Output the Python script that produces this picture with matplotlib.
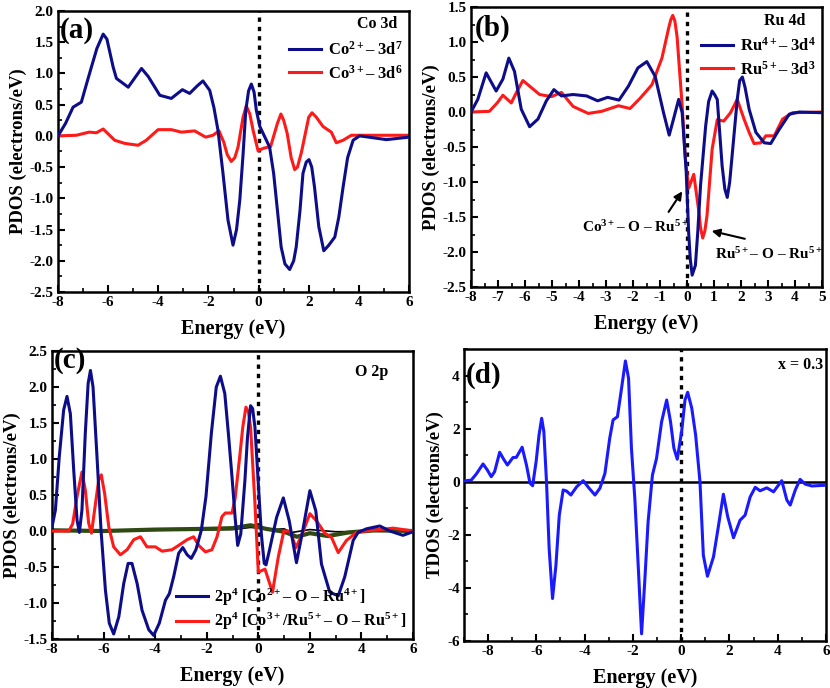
import matplotlib
matplotlib.use("Agg")
import matplotlib.pyplot as plt
from matplotlib.ticker import MultipleLocator, FormatStrFormatter

plt.rcParams['font.family'] = ['Liberation Serif', 'DejaVu Serif']
plt.rcParams['font.weight'] = 'bold'
plt.rcParams['mathtext.fontset'] = 'custom'
plt.rcParams['mathtext.rm'] = 'Liberation Serif:bold'
plt.rcParams['mathtext.bf'] = 'Liberation Serif:bold'
plt.rcParams['mathtext.it'] = 'Liberation Serif:bold'

# ---------------- Panel (a): Co 3d ----------------
a_e_co2 = [-8, -7.7, -7.4, -7.07, -6.85, -6.67, -6.45, -6.2, -6.05, -5.95, -5.8, -5.67, -5.2, -4.9,
           -4.67, -4.4, -3.94, -3.48, -3.04, -2.75, -2.45, -2.22, -1.95, -1.78, -1.62, -1.42, -1.22,
           -1.02, -0.88, -0.75, -0.62, -0.51, -0.4, -0.29, -0.18, -0.09, 0.05, 0.18, 0.44, 0.6, 0.71,
           0.9, 1.05, 1.24, 1.4, 1.5, 1.65, 1.77, 1.9, 2.01, 2.12, 2.23, 2.4, 2.6, 2.8, 3.04, 3.2,
           3.37, 3.55, 3.77, 4.03, 5.1, 6]
a_d_co2 = [0, 0.2, 0.46, 0.54, 0.85, 1.1, 1.4, 1.63, 1.55, 1.37, 1.1, 0.92, 0.78, 0.95,
           1.08, 0.95, 0.65, 0.6, 0.74, 0.68, 0.8, 0.88, 0.73, 0.45, 0.09, -0.6, -1.35,
           -1.75, -1.5, -1.03, -0.3, 0.41, 0.72, 0.83, 0.7, 0.41, 0.15, 0.04, -0.18, -0.6, -1.03,
           -1.78, -2.05, -2.14, -2.0, -1.78, -1.2, -0.6, -0.42, -0.38, -0.5, -0.82, -1.45, -1.84, -1.75, -1.62, -1.3,
           -0.82, -0.35, -0.07, 0, -0.06, -0.02]
a_e_co3 = [-8, -7.27, -6.76, -6.47, -6.2, -5.74, -5.34, -4.81, -4.48, -4.01, -3.48, -3.08, -2.55,
           -2.11, -1.82, -1.58, -1.39, -1.25, -1.09, -0.95, -0.82, -0.62, -0.49, -0.35, -0.22, -0.02,
           0.18, 0.48, 0.75, 0.89, 1.0, 1.14, 1.3, 1.44, 1.55, 1.71, 2.0, 2.13, 2.3, 2.57, 2.9, 3.1,
           3.37, 3.7, 6]
a_d_co3 = [0, 0.01, 0.06, 0.05, 0.11, -0.07, -0.12, -0.15, -0.07, 0.1, 0.1, 0.06, 0.08,
           -0.02, 0.01, 0.08, -0.1, -0.3, -0.41, -0.35, -0.18, 0.3, 0.48, 0.35, 0.09, -0.24,
           -0.2, -0.17, 0.2, 0.35, 0.25, 0.04, -0.35, -0.54, -0.5, -0.26, 0.3, 0.37, 0.3, 0.15, 0.06, -0.11,
           -0.07, 0.01, 0.01]

# ---------------- Panel (b): Ru 4d ----------------
b_e_ru4 = [-8, -7.75, -7.44, -7.07, -6.82, -6.6, -6.39, -6.14, -5.83, -5.52, -5.21, -4.93, -4.65,
           -4.22, -3.72, -3.31, -2.94, -2.52, -2.17, -1.82, -1.49, -1.18, -0.87, -0.66, -0.5, -0.31,
           -0.18, -0.03, 0.06, 0.12, 0.19, 0.31, 0.4, 0.5, 0.69, 0.8, 0.93, 1.02, 1.12, 1.3, 1.4, 1.49,
           1.58, 1.68, 1.86, 1.95, 2.05, 2.15, 2.3, 2.55, 2.86, 3.1, 3.41, 3.79, 4.16, 5]
b_d_ru4 = [0, 0.18, 0.56, 0.3, 0.47, 0.77, 0.58, 0.04, -0.21, -0.1, 0.16, 0.32, 0.23,
           0.25, 0.23, 0.16, 0.21, 0.17, 0.37, 0.63, 0.72, 0.51, -0.01, -0.33, -0.1, 0.18,
           -0.01, -0.86, -1.72, -2.1, -2.33, -2.19, -1.7, -1.05, -0.2, 0.15, 0.3, 0.25, 0.18, -0.77, -1.1, -1.22,
           -1.0, -0.58, 0.18, 0.45, 0.5, 0.35, 0.04, -0.29, -0.44, -0.45, -0.25, -0.03, 0, -0.01]
b_e_ru5 = [-8, -7.32, -7.03, -6.82, -6.51, -6.33, -6.08, -5.77, -5.46, -5.02, -4.65, -4.22, -3.66,
           -3.16, -2.54, -2.11, -1.73, -1.3, -0.93, -0.68, -0.6, -0.53, -0.45, -0.37, -0.18, -0.06,
           0.06, 0.25, 0.44, 0.5, 0.58, 0.66, 0.74, 0.93, 1.12, 1.36, 1.61, 1.86, 2.11, 2.3, 2.48,
           2.73, 2.92, 3.23, 3.54, 3.91, 5]
b_d_ru5 = [0, 0.01, 0.13, 0.24, 0.13, 0.27, 0.45, 0.35, 0.25, 0.22, 0.28, 0.08, -0.02,
           0.01, 0.09, 0.05, 0.2, 0.39, 0.77, 1.2, 1.32, 1.38, 1.3, 1.08, 0.09, -0.67,
           -1.09, -0.89, -1.43, -1.65, -1.8, -1.7, -1.48, -0.53, -0.11, -0.13, -0.01, 0.18, -0.1, -0.29, -0.45,
           -0.44, -0.34, -0.34, -0.1, -0.01, 0]

# ---------------- Panel (c): O 2p ----------------
c_e_blue = [-8, -7.87, -7.72, -7.55, -7.42, -7.29, -7.16, -7.03, -6.94, -6.84, -6.71, -6.6, -6.51,
            -6.41, -6.25, -6.1, -5.93, -5.78, -5.61, -5.41, -5.22, -5.05, -4.9, -4.7, -4.51, -4.25,
            -4.06, -3.84, -3.6, -3.45, -3.28, -3.09, -2.93, -2.76, -2.6, -2.42, -2.21, -2.03, -1.82,
            -1.63, -1.47, -1.3, -1.15, -1.02, -0.9, -0.8, -0.68, -0.52, -0.42, -0.3, -0.22, -0.13,
            0.04, 0.12, 0.23, 0.3, 0.43, 0.71, 0.97, 1.2, 1.48, 1.72, 2.0, 2.23, 2.45, 2.77, 3.1,
            3.35, 3.68, 3.87, 4.19, 4.71, 5.1, 5.61, 6]
c_d_blue = [0.06, 0.29, 1.03, 1.68, 1.87, 1.63, 0.85, 0.15, -0.02, 0.29, 1.36, 2.05, 2.23,
            2.0, 0.99, 0.01, -0.82, -1.28, -1.43, -1.19, -0.73, -0.45, -0.45, -0.73, -1.1, -1.37,
            -1.45, -1.28, -0.96, -0.87, -0.63, -0.31, -0.23, -0.33, -0.38, -0.26, 0.01, 0.48, 1.36,
            2.0, 2.15, 1.91, 1.31, 0.75, 0.19, -0.2, -0.04, 0.7, 1.3, 1.74, 1.7, 1.44,
            0.42, -0.05, -0.45, -0.47, -0.27, 0.19, 0.46, 0.14, -0.44, 0, 0.56, 0.28, -0.46, -0.85, -0.9,
            -0.64, -0.13, -0.02, 0.03, 0.07, 0, -0.06, -0.01]
c_e_red = [-8, -7.35, -7.2, -7.03, -6.84, -6.71, -6.58, -6.47, -6.35, -6.19, -6.09, -5.96, -5.8,
           -5.61, -5.35, -5.09, -4.83, -4.57, -4.32, -3.99, -3.73, -3.35, -3.09, -2.76, -2.51, -2.31,
           -2.05, -1.8, -1.6, -1.41, -1.28, -1.02, -0.9, -0.71, -0.6, -0.48, -0.38, -0.3, -0.13, 0.0,
           0.26, 0.55, 0.77, 0.99, 1.23, 1.46, 1.68, 2.0, 2.26, 2.58, 2.84, 3.1, 3.42, 3.81, 4.19,
           5.23, 6]
c_d_red = [0, 0, 0.1, 0.48, 0.82, 0.57, 0.11, -0.03, 0.29, 0.71, 0.78, 0.52, 0.06,
           -0.22, -0.33, -0.26, -0.12, -0.08, -0.22, -0.22, -0.28, -0.26, -0.2, -0.12, -0.08, -0.2,
           -0.29, -0.26, -0.08, 0.2, 0.25, 0.25, 0.45, 1.07, 1.45, 1.72, 1.65, 1.44, 0.38, -0.57,
           -0.53, -0.85, -0.37, 0, 0, -0.23, -0.06, 0.24, 0.14, -0.03, -0.09, -0.3, -0.13, -0.02, 0,
           0.04, 0]
c_e_green = [-8, -6, -4, -2, -1, -0.3, 0.3, 1.0, 1.5, 2.0, 2.7, 3.5, 4.5, 6]
c_d_green = [0.01, 0.0, 0.02, 0.03, 0.04, 0.08, 0.03, -0.01, -0.08, -0.03, -0.07, -0.02, 0.01, 0.0]
c_e_black = [-8, -4, -1, -0.3, 0.5, 1.0, 1.3, 2.0, 3.0, 6]
c_d_black = [0, 0.01, 0.02, 0.05, 0.02, 0.03, -0.02, 0.02, -0.01, 0]

# ---------------- Panel (d): TDOS ----------------
d_e = [-9, -8.7, -8.49, -8.21, -8.03, -7.87, -7.73, -7.52, -7.35, -7.2, -6.97, -6.83, -6.59, -6.41,
       -6.265, -6.155, -6.01, -5.89, -5.78, -5.69, -5.58, -5.47, -5.33, -5.19, -5.05, -4.89, -4.75,
       -4.57, -4.33, -4.06, -3.81, -3.57, -3.37, -3.16, -2.96, -2.82, -2.64, -2.47, -2.31, -2.18,
       -2.06, -1.92, -1.78, -1.64, -1.51, -1.37, -1.19, -1.02, -0.81, -0.6, -0.44, -0.3, -0.16,
       0.02, 0.16, 0.27, 0.44, 0.6, 0.78, 0.92, 1.09, 1.34, 1.54, 1.75, 1.93, 2.17, 2.44, 2.65,
       2.86, 3.07, 3.27, 3.55, 3.83, 4.03, 4.17, 4.38, 4.52, 4.73, 4.93, 5.14, 5.42, 6]
d_tdos = [0.03, 0.06, 0.29, 0.67, 0.44, 0.19, 0.38, 1.11, 0.84, 0.63, 0.91, 0.92, 1.3, 0.63,
          -0.05, -0.15, 0.76, 1.76, 2.39, 1.89, 0, -2.52, -4.4, -3.15, -1.26, -0.31, -0.35,
          -0.5, -0.19, 0.04, -0.25, -0.5, -0.25, 0.31, 1.64, 2.33, 2.45, 3.52, 4.55, 3.9,
          1.26, -0.63, -3.15, -5.73, -3.78, -1.51, 0.25, 0.88, 2.26, 3.08, 2.26, 1.26, 0.85,
          1.89, 3.08, 3.37, 2.77, 1.76, 0, -2.77, -3.56, -2.83, -1.7, -0.47, -1.32, -2.11, -1.45, -1.26,
          -0.57, -0.21, -0.34, -0.23, -0.38, -0.13, 0.04, -0.69, -0.88, -0.31, 0.09, -0.09, -0.16, -0.13]

NAVY = '#0d0d8a'
RED = '#ff1a1a'
BLUE = '#1a1aff'
GREEN = '#2e4a12'
LW = 2.2

fig = plt.figure(figsize=(8.3, 6.88), dpi=100)


def style(ax, xlim, ylim, xmaj, xmin, ymaj, ymin, ylabel, yfmt):
    ax.set_xlim(*xlim)
    ax.set_ylim(*ylim)
    ax.xaxis.set_major_locator(MultipleLocator(xmaj))
    ax.xaxis.set_minor_locator(MultipleLocator(xmin))
    ax.yaxis.set_major_locator(MultipleLocator(ymaj))
    ax.yaxis.set_minor_locator(MultipleLocator(ymin))
    ax.yaxis.set_major_formatter(FormatStrFormatter(yfmt))
    ax.xaxis.set_major_formatter(FormatStrFormatter('%d'))
    ax.tick_params(which='major', direction='in', length=5, width=1.5, labelsize=11, pad=3)
    ax.tick_params(which='minor', direction='in', length=3, width=1.2)
    for s in ax.spines.values():
        s.set_linewidth(1.8)
    for lab in ax.get_xticklabels() + ax.get_yticklabels():
        lab.set_fontweight('bold')
    ax.set_xlabel('Energy (eV)', fontsize=14.5, fontweight='bold', labelpad=7)
    ax.set_ylabel(ylabel, fontsize=13.5, fontweight='bold', labelpad=2)
    ax.axvline(0, color='black', lw=2.4, linestyle=(0, (1.3, 1.5)), zorder=1)
    for line in ax.get_lines():
        line.set_solid_joinstyle('round')


# (a)
axa = fig.add_axes([0.0699, 0.5756, 0.4229, 0.4084])
axa.plot(a_e_co2, a_d_co2, color=NAVY, lw=LW, label=r'Co$^{2+}$– 3d$^{7}$', zorder=3)
axa.plot(a_e_co3, a_d_co3, color=RED, lw=LW, label=r'Co$^{3+}$– 3d$^{6}$', zorder=2)
style(axa, (-8, 6), (-2.5, 2.0), 2, 1, 0.5, 0.25, 'PDOS (electrons/eV)', '%.1f')
axa.text(0.005, 0.93, '(a)', transform=axa.transAxes, fontsize=21, fontweight='bold', va='center', ha='left')
axa.text(0.91, 0.953, 'Co 3d', transform=axa.transAxes, fontsize=11.5, fontweight='bold', va='center', ha='center')
axa.legend(loc='upper right', bbox_to_anchor=(1.01, 0.93), frameon=False, fontsize=12,
           handlelength=1.9, handletextpad=0.4, labelspacing=0.35, borderaxespad=0.2)

# (b)
axb = fig.add_axes([0.5675, 0.5828, 0.4229, 0.407])
axb.plot(b_e_ru4, b_d_ru4, color=NAVY, lw=LW, label=r'Ru$^{4+}$– 3d$^{4}$', zorder=3)
axb.plot(b_e_ru5, b_d_ru5, color=RED, lw=LW, label=r'Ru$^{5+}$– 3d$^{3}$', zorder=2)
style(axb, (-8, 5), (-2.5, 1.5), 1, 0.5, 0.5, 0.25, 'PDOS (electrons/eV)', '%.1f')
axb.text(0.01, 0.925, '(b)', transform=axb.transAxes, fontsize=21, fontweight='bold', va='center', ha='left')
axb.text(0.895, 0.949, 'Ru 4d', transform=axb.transAxes, fontsize=11.5, fontweight='bold', va='center', ha='center')
axb.legend(loc='upper right', bbox_to_anchor=(1.01, 0.93), frameon=False, fontsize=12,
           handlelength=1.9, handletextpad=0.4, labelspacing=0.35, borderaxespad=0.2)
axb.annotate('', xy=(-0.12, -1.10), xytext=(-0.74, -1.46),
             arrowprops=dict(arrowstyle='-|>', color='black', lw=1.5, mutation_scale=12))
axb.text(-1.92, -1.65, r'Co$^{3+}$– O – Ru$^{5+}$', fontsize=11, fontweight='bold', ha='center', va='center')
axb.annotate('', xy=(0.81, -1.69), xytext=(2.24, -1.82),
             arrowprops=dict(arrowstyle='-|>', color='black', lw=1.5, mutation_scale=12))
axb.text(3.02, -2.03, r'Ru$^{5+}$– O – Ru$^{5+}$', fontsize=11, fontweight='bold', ha='center', va='center')

# (c)
axc = fig.add_axes([0.0627, 0.0712, 0.4349, 0.4186])
axc.plot(c_e_black, c_d_black, color='black', lw=1.2, zorder=2)
axc.plot(c_e_green, c_d_green, color=GREEN, lw=3.0, zorder=2)
axc.plot(c_e_blue, c_d_blue, color=NAVY, lw=LW, label=r'2p$^{4}$ [Co$^{2+}$– O – Ru$^{4+}$]', zorder=4)
axc.plot(c_e_red, c_d_red, color=RED, lw=LW, label=r'2p$^{4}$ [Co$^{3+}$/Ru$^{5+}$– O – Ru$^{5+}$]', zorder=3)
style(axc, (-8, 6), (-1.5, 2.5), 2, 1, 0.5, 0.25, 'PDOS (electrons/eV)', '%.1f')
axc.text(0.005, 0.968, '(c)', transform=axc.transAxes, fontsize=21, fontweight='bold', va='center', ha='left')
axc.text(0.885, 0.927, 'O 2p', transform=axc.transAxes, fontsize=11.5, fontweight='bold', va='center', ha='center')
axc.legend(loc='lower right', bbox_to_anchor=(1.01, -0.01), frameon=False, fontsize=11.5,
           handlelength=2.0, handletextpad=0.4, labelspacing=0.2, borderaxespad=0.2)

# (d)
axd = fig.add_axes([0.559, 0.0683, 0.4361, 0.4244])
axd.axhline(0, color='black', lw=1.8, zorder=2)
axd.plot(d_e, d_tdos, color=BLUE, lw=LW, zorder=3)
style(axd, (-9, 6), (-6, 5), 2, 1, 2, 1, 'TDOS (electrons/eV)', '%d')
axd.text(0.006, 0.909, '(d)', transform=axd.transAxes, fontsize=21, fontweight='bold', va='center', ha='left')
axd.text(0.991, 0.945, 'x = 0.3', transform=axd.transAxes, fontsize=11.5, fontweight='bold', va='center', ha='right')

fig.savefig('out.png', dpi=100)
